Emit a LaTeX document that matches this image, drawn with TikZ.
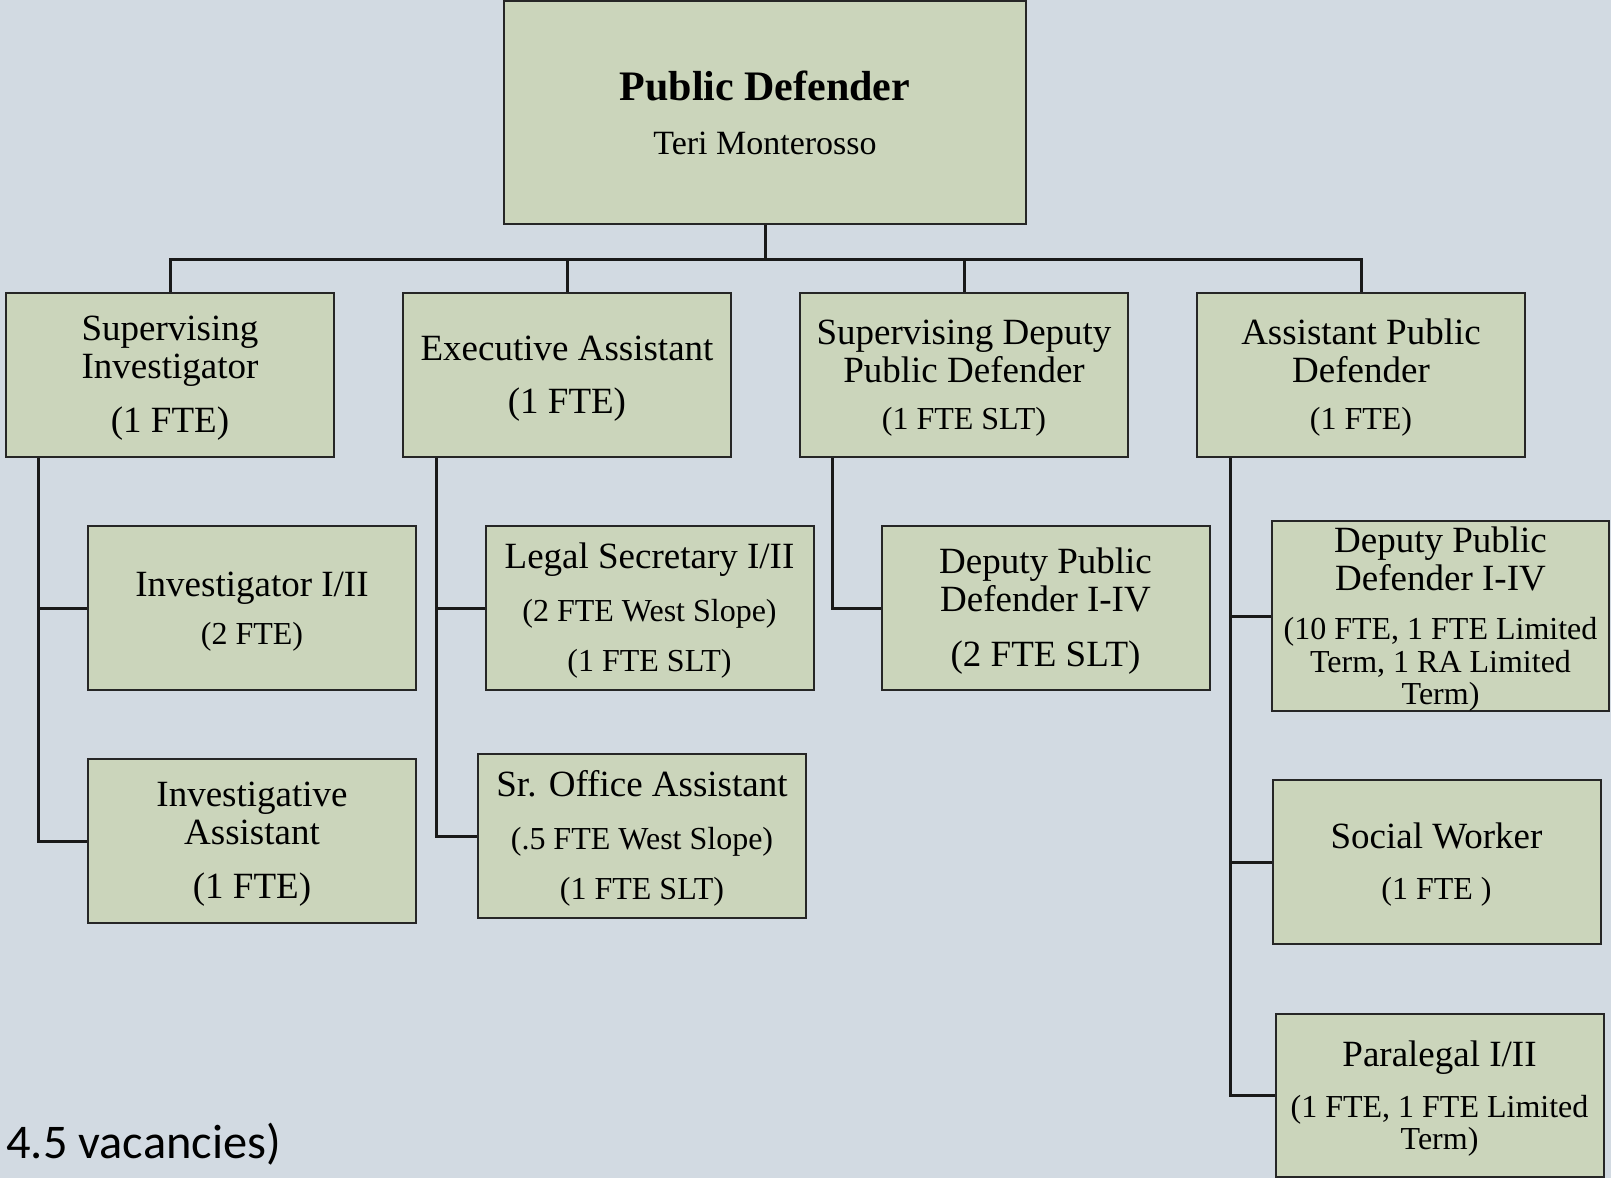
\documentclass[tikz,border=0pt]{standalone}
\usepackage{fontspec}
\setmainfont{Liberation Serif}
\newfontfamily\calibrifont{Carlito}

\definecolor{bgblue}{RGB}{210,218,226}
\definecolor{boxgreen}{RGB}{203,213,187}
\newcommand{\ftetext}[1]{{\fontsize{16}{19}\selectfont #1}}
\newcommand{\boxstrut}{\rule{0pt}{15.8pt}}

\begin{document}
\begin{tikzpicture}[x=0.5pt,y=-0.5pt,
    box/.style={draw=black!85,line width=1pt,fill=boxgreen,align=center,inner sep=0pt,
        minimum width=164pt,minimum height=82pt,font=\fontsize{18.5}{19}\selectfont},
    link/.style={line width=1.5pt,black!90}]

\fill[bgblue] (0,0) rectangle (1611,1178);
\useasboundingbox (0,0) rectangle (1611,1178);

\node[box,minimum width=261pt,minimum height=111.5pt] (pd) at (765,112.5)
    {{\bfseries\fontsize{21}{19}\selectfont Public Defender}\\[8pt]{\fontsize{17}{19}\selectfont Teri Monterosso}};

% first level
\node[box] (supinv) at (170,375)  {\boxstrut Supervising\\Investigator\\[8pt](1 FTE)};
\node[box] (exec)   at (567,375)  {\boxstrut Executive Assistant\\[7.5pt](1 FTE)};
\node[box] (supdpd) at (964,375)  {\boxstrut Supervising Deputy\\Public Defender\\[4.5pt]\ftetext{(1 FTE SLT)}};
\node[box] (apd)    at (1361,375) {\boxstrut Assistant Public\\Defender\\[4.5pt]\ftetext{(1 FTE)}};

% staff
\node[box] (inv)     at (252,608)   {\boxstrut Investigator I/II\\[5pt]\ftetext{(2 FTE)}};
\node[box] (invasst) at (252,841)   {\boxstrut Investigative\\Assistant\\[8pt](1 FTE)};
\node[box] (legsec)  at (649.5,608) {\boxstrut Legal Secretary I/II\\[7.5pt]\ftetext{(2 FTE West Slope)}\\[6pt]\ftetext{(1 FTE SLT)}};
\node[box] (sroa)    at (642,836)   {\boxstrut Sr. Office Assistant\\[7.5pt]\ftetext{(.5 FTE West Slope)}\\[6pt]\ftetext{(1 FTE SLT)}};
\node[box] (dpd)     at (1045.5,608) {\boxstrut Deputy Public\\Defender I-IV\\[8.5pt](2 FTE SLT)};
\node[box,minimum width=168.5pt,minimum height=95pt] (dpdx) at (1440.5,616)
    {\boxstrut Deputy Public\\Defender I-IV\\[5.5pt]\ftetext{(10 FTE, 1 FTE Limited}\\[-2.5pt]\ftetext{Term, 1 RA Limited}\\[-3pt]\ftetext{Term)}};
\node[box] (sw)      at (1436.5,862) {\boxstrut Social Worker\\[6.5pt]\ftetext{(1 FTE )}};
\node[box,minimum height=81.5pt] (para) at (1439.5,1095.5)
    {\boxstrut Paralegal I/II\\[6.5pt]\ftetext{(1 FTE, 1 FTE Limited}\\[-3pt]\ftetext{Term)}};

\node[anchor=base west,inner sep=0pt,font=\calibrifont\fontsize{24.2}{28}\selectfont] (vac) at (6,1158) {4.5 vacancies)};

% connectors
\draw[link] (pd.south) -- ++(0,34) -| (supinv.north);
\draw[link] (pd.south) -- ++(0,34) -| (exec.north);
\draw[link] (pd.south) -- ++(0,34) -| (supdpd.north);
\draw[link] (pd.south) -- ++(0,34) -| (apd.north);

\draw[link] ([xshift=16.5pt]supinv.south west) |- (inv.west);
\draw[link] ([xshift=16.5pt]supinv.south west) |- (invasst.west);
\draw[link] ([xshift=17pt]exec.south west) |- (legsec.west);
\draw[link] ([xshift=17pt]exec.south west) |- (sroa.west);
\draw[link] ([xshift=16.5pt]supdpd.south west) |- (dpd.west);
\draw[link] ([xshift=17pt]apd.south west) |- (dpdx.west);
\draw[link] ([xshift=17pt]apd.south west) |- (sw.west);
\draw[link] ([xshift=17pt]apd.south west) |- (para.west);
\end{tikzpicture}
\end{document}
